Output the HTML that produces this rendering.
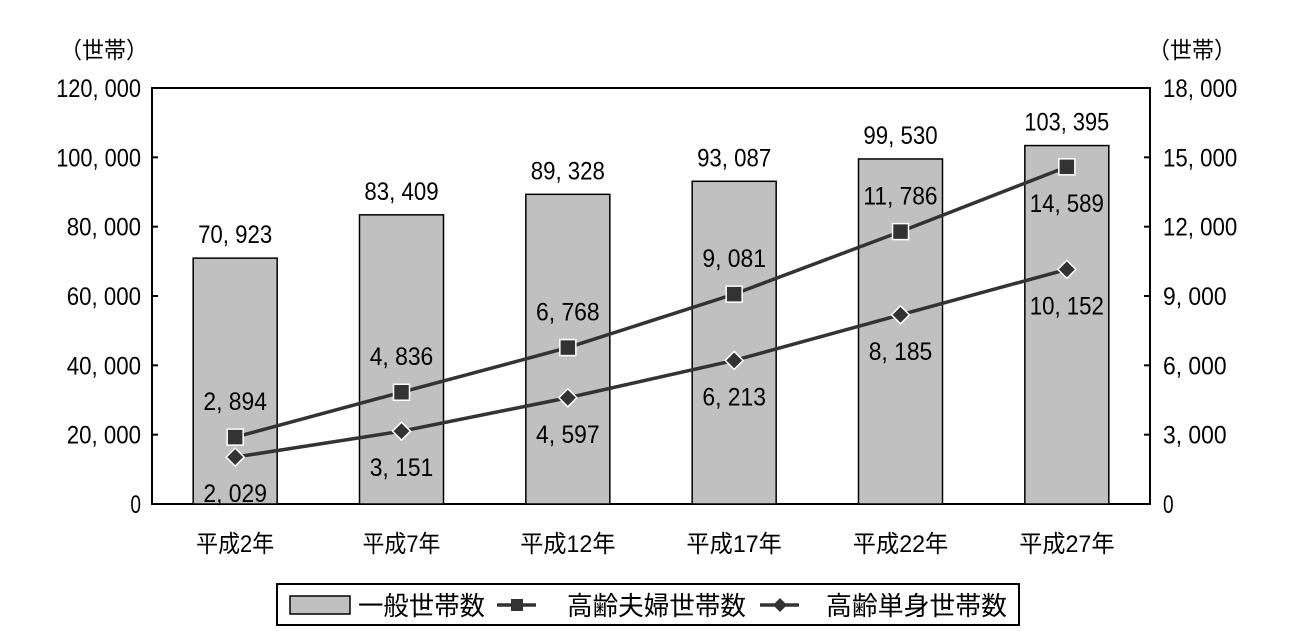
<!DOCTYPE html>
<html><head><meta charset="utf-8"><style>
html,body{margin:0;padding:0;background:#fff}
svg{display:block;font-family:"Liberation Sans","Noto Sans CJK JP",sans-serif}
</style></head><body>
<svg id="chart" width="1295" height="633" viewBox="0 0 1295 633" xmlns="http://www.w3.org/2000/svg">
<g id="g"></g>
</svg>
<script>
const categories=["平成2年","平成7年","平成12年","平成17年","平成22年","平成27年"];
const generalHouseholds=[70923,83409,89328,93087,99530,103395];
const elderlyCouples=[2894,4836,6768,9081,11786,14589];
const elderlySingles=[2029,3151,4597,6213,8185,10152];
const coupleLabelSide=["above","above","above","above","above","below"];
const singleLabelSide=["below","below","below","below","below","below"];
const leftTicks=[0,20000,40000,60000,80000,100000,120000];
const rightTicks=[0,3000,6000,9000,12000,15000,18000];

const NS="http://www.w3.org/2000/svg";
const g=document.getElementById('g');
const L=152,R=1150,T=88,B=504;
const cw=(R-L)/categories.length;
const xC=i=>L+(i+0.5)*cw;
const yL=v=>B-v/120000*(B-T);
const yR=v=>B-v/18000*(B-T);
const fmt=v=>v.toLocaleString('en-US').replace(/,/g,', ');
function el(t,a,p){const e=document.createElementNS(NS,t);for(const k in a)e.setAttribute(k,a[k]);(p||g).appendChild(e);return e;}
function txt(s,x,y,anchor,size,w){const e=el('text',{x:x,y:y,'text-anchor':anchor,'font-size':size,fill:'#000'});e.textContent=s;if(w){e.setAttribute('textLength',w);e.setAttribute('lengthAdjust','spacingAndGlyphs');}return e;}

const frame=el('rect',{x:L,y:T,width:R-L,height:B-T,fill:'none',stroke:'#000','stroke-width':2});


leftTicks.forEach(v=>{
  const y=yL(v);
  el('line',{x1:L,x2:L+6,y1:y,y2:y,stroke:'#000','stroke-width':2});
  const s=fmt(v);
  const t=txt(s,141,y+9,'end',25,s.length*10.6);
  
  
});
rightTicks.forEach(v=>{
  const y=yR(v);
  el('line',{x1:R-6,x2:R,y1:y,y2:y,stroke:'#000','stroke-width':2});
  const s=fmt(v);
  const t=txt(s,1163,y+9,'start',25,s.length*10.6);
  
  
});
let u=txt('（世帯）',60,58,'start',23,88);


u=txt('（世帯）',1148,58,'start',23,88);



generalHouseholds.forEach((v,i)=>{
  const bw=84,x=xC(i)-bw/2,y=yL(v);
  const b=el('rect',{x:x,y:y,width:bw,height:B-y,fill:'#c0c0c0',stroke:'#000','stroke-width':1.5});
  
  
  const s=fmt(v);
  const t=txt(s,xC(i),y-15,'middle',25,s.length*10.6);
  
  
});
categories.forEach((c,i)=>{
  const t=txt(c,xC(i),552,'middle',24,c.length*17.5+8);
  
  
});
function series(vals,sides,shape,name){
  const pts=vals.map((v,i)=>[xC(i),yR(v)]);
  const pl=el('polyline',{points:pts.map(p=>p.join(',')).join(' '),fill:'none',stroke:'#333','stroke-width':3.5});
  
  
  pts.forEach((p,i)=>{
    let m;
    if(shape==='square') m=el('rect',{x:p[0]-8,y:p[1]-8,width:16,height:16,fill:'#333',stroke:'#fff','stroke-width':1.5});
    else m=el('polygon',{points:`${p[0]},${p[1]-9} ${p[0]+9},${p[1]} ${p[0]},${p[1]+9} ${p[0]-9},${p[1]}`,fill:'#333',stroke:'#fff','stroke-width':1.5});
    
    
    const s=fmt(vals[i]);
    const y=sides[i]==='above'?p[1]-27:p[1]+45;
    const t=txt(s,p[0],y,'middle',25,s.length*10.6);
    
    
  });
}
series(elderlyCouples,coupleLabelSide,'square','elderly-couple');
series(elderlySingles,singleLabelSide,'diamond','elderly-single');

const lg=el('g',{});


el('rect',{x:277,y:584,width:742,height:41,fill:'#fff',stroke:'#000','stroke-width':2},lg);
el('rect',{x:290,y:596,width:60,height:18,fill:'#c0c0c0',stroke:'#000','stroke-width':1.5},lg);
let t=txt('一般世帯数',358,615,'start',26,127);lg.appendChild(t);


el('line',{x1:497,x2:536,y1:605,y2:605,stroke:'#333','stroke-width':3.5},lg);
el('rect',{x:511,y:599,width:12,height:12,fill:'#333'},lg);
t=txt('高齢夫婦世帯数',567,615,'start',26,179);lg.appendChild(t);


el('line',{x1:760,x2:799,y1:605,y2:605,stroke:'#333','stroke-width':3.5},lg);
el('polygon',{points:'780,598 787,605 780,612 773,605',fill:'#333'},lg);
t=txt('高齢単身世帯数',826,615,'start',26,181);lg.appendChild(t);


</script>
</body></html>
